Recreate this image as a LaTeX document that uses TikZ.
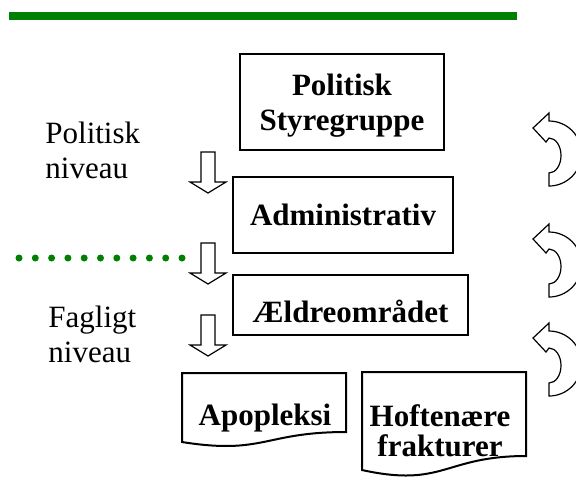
\documentclass[tikz,border=0pt]{standalone}
\usepackage{fontspec}
\setmainfont{Liberation Serif}
\usepackage{tikz}
\usetikzlibrary{positioning}
\definecolor{barg}{HTML}{008000}

\begin{document}
\begin{tikzpicture}[x=0.5pt, y=-0.5pt,
  box/.style={draw, line width=1pt, inner sep=0pt, align=center,
              font=\bfseries\fontsize{15.5}{17.5}\selectfont},
  lvl/.style={inner sep=0pt, anchor=north west, align=left,
              font=\fontsize{15.5}{17.5}\selectfont},
  doc/.style={draw, line width=1pt, fill=white},
  dtxt/.style={inner sep=0pt, align=center, font=\bfseries\fontsize{15.5}{15}\selectfont},
  blk/.style={draw, line width=0.6pt, fill=white}]
  \useasboundingbox (0,0) rectangle (576,479);
  \clip (0,0) rectangle (576,479);
  % top bar
  \fill[barg] (9,12) rectangle (517,20);
  % levels
  \node[lvl] (pol) at (45,122) {Politisk\\niveau};
  \node[lvl] (fag) at (48,306) {Fagligt\\niveau};
  \foreach \i in {0,...,10}
    \fill[barg] (19+16.3*\i,258) circle[radius=3.5];
  % organisation
  \node[box, minimum width=102pt, minimum height=48pt] (sty) at (342,102) {\rule{0pt}{14.5pt}Politisk\\Styregruppe};
  \node[box, minimum width=110pt, minimum height=38pt] (adm) at (343,215) {Administrativ};
  \node[box, minimum width=117.5pt, minimum height=30pt, text height=17pt, text depth=0pt]
    (aeld) at (350.5,305) {Ældreområdet};
  % projects
  \draw[doc] (182,373) -- (346,373) -- (346,432) .. controls (264,432) and (264,455) .. (182,442) -- cycle;
  \node[dtxt, anchor=base] (apo) at (265,425) {Apopleksi};
  \draw[doc] (362,372) -- (526,372) -- (526,456) .. controls (444,456) and (444,488) .. (362,470) -- cycle;
  \node[dtxt, anchor=north] (hof) at (440,404) {Hoftenære\\frakturer};
  % block arrows
  \foreach \t in {152,243,315}
    \draw[blk] (201,\t) -- (215,\t) -- (215,\t+30) -- (226,\t+30) -- (208,\t+41)
      -- (190,\t+30) -- (201,\t+30) -- cycle;
  \foreach \t in {113,224,323}
    \draw[blk] (549,\t) -- (549,\t+8) arc[start angle=-90, end angle=90, radius=32.5]
      -- (549,\t+60) arc[start angle=90, end angle=-90, x radius=12, y radius=17.5]
      -- (546,\t+29) -- (533,\t+15) -- cycle;
\end{tikzpicture}
\end{document}
